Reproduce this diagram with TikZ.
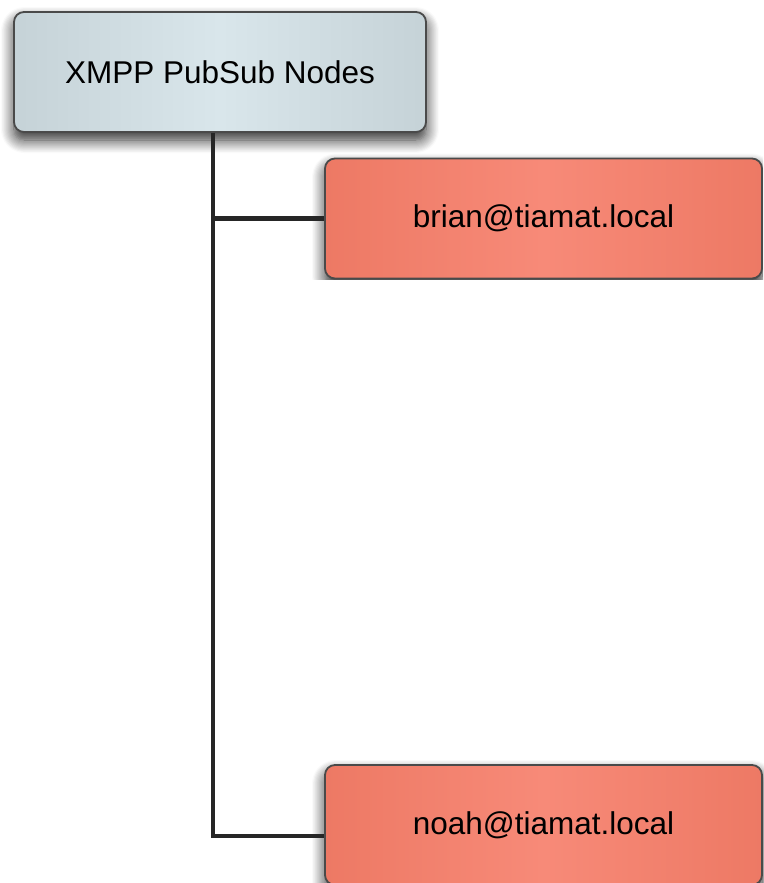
\documentclass[tikz,border=0pt]{standalone}
\usepackage{fontspec}
\setmainfont{Liberation Sans}
\usetikzlibrary{shadows.blur}

\definecolor{grayhi}{HTML}{D9E6EB}
\definecolor{graymid}{HTML}{C3D0D5}
\definecolor{graylo}{HTML}{A8B4B8}
\definecolor{redhi}{HTML}{F78A78}
\definecolor{redmid}{HTML}{EC7762}
\definecolor{redlo}{HTML}{DC5C42}
\definecolor{rim}{HTML}{4A4A4A}
\definecolor{wire}{HTML}{262626}

\pgfdeclarehorizontalshading{graybar}{100bp}{color(0bp)=(graylo); color(22bp)=(graymid); color(50bp)=(grayhi); color(78bp)=(graymid); color(100bp)=(graylo)}
\pgfdeclarehorizontalshading{redbar}{100bp}{color(0bp)=(redlo); color(22bp)=(redmid); color(50bp)=(redhi); color(78bp)=(redmid); color(100bp)=(redlo)}

\tikzset{
  card/.style={draw=rim, line width=1.8pt, rounded corners=10pt, shade,
    minimum height=120pt, inner sep=0pt,
    font=\fontsize{31.5}{36}\selectfont,
    blur shadow={shadow xshift=0pt, shadow yshift=-8pt, shadow blur radius=13pt, shadow blur steps=12, shadow opacity=85}},
  rootcard/.style={card, shading=graybar, minimum width=412pt},
  leafcard/.style={card, shading=redbar, minimum width=437pt},
  conn/.style={draw=wire, line width=4.5pt, line join=miter}
}

\begin{document}
\begin{tikzpicture}[x=1pt, y=-1pt]
  \useasboundingbox (0,0) rectangle (763,883);

  % root of the tree
  \node[rootcard] (root) at (220,72) {XMPP PubSub Nodes};

  % first child, cut off just below its lower edge
  \begin{scope}
    \clip (0,140) rectangle (763,279.5);
    \node[leafcard] (brian) at (543.5,218.5) {brian@tiamat.local};
  \end{scope}

  % second child
  \node[leafcard] (noah) at (543.5,825) {noah@tiamat.local};

  % tree connectors
  \coordinate (trunk) at ([xshift=-7pt]root.south);
  \coordinate (noahport) at ([yshift=-11pt]noah.west);
  \draw[conn] (trunk) |- (noahport);
  \draw[conn] (trunk |- brian.west) -- (brian.west);
\end{tikzpicture}
\end{document}
